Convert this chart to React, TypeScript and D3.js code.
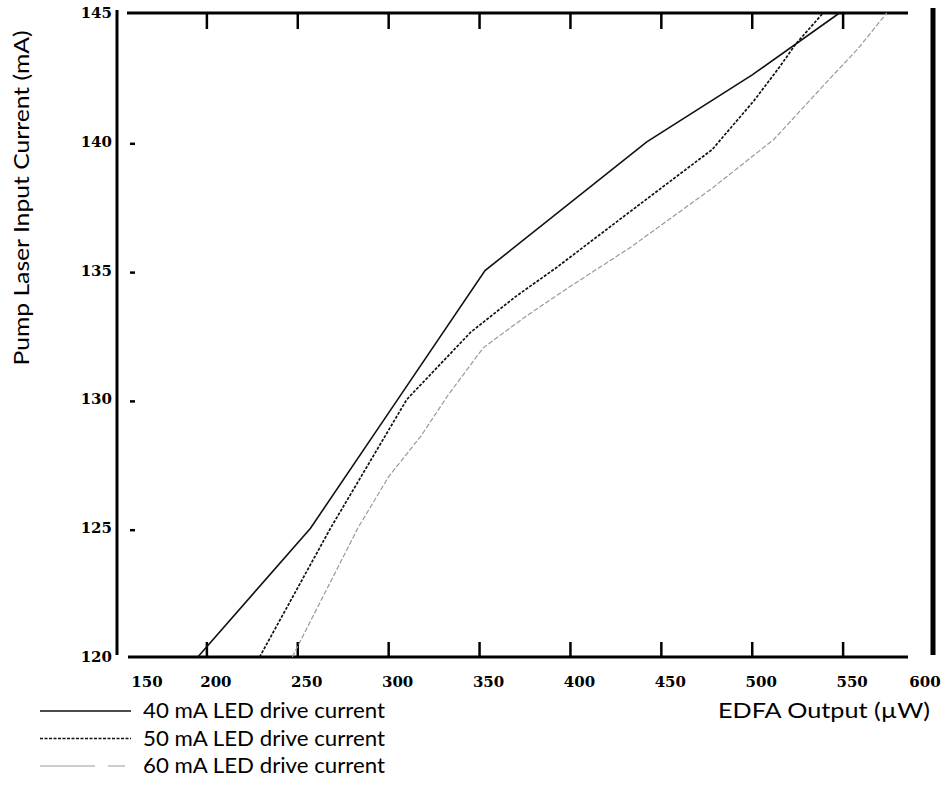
import * as d3 from 'd3';
import React from 'react';

// EDFA output (µW) vs pump laser current (mA), one list per LED drive current
const current40 = [
  { x: 195, y: 120 }, { x: 257, y: 125 }, { x: 305, y: 130 }, { x: 353, y: 135 },
  { x: 442, y: 140 }, { x: 500, y: 142.6 }, { x: 548, y: 145 },
];
const current50 = [
  { x: 229, y: 120 }, { x: 268, y: 125 }, { x: 310, y: 130 }, { x: 345, y: 132.6 },
  { x: 370, y: 134 }, { x: 392, y: 135.1 }, { x: 433, y: 137.3 }, { x: 478, y: 139.7 },
  { x: 501, y: 141.6 }, { x: 515, y: 142.9 }, { x: 524, y: 143.8 }, { x: 539, y: 145 },
];
const current60 = [
  { x: 247, y: 120 }, { x: 265, y: 122.5 }, { x: 283, y: 125 }, { x: 300, y: 127 },
  { x: 318, y: 128.6 }, { x: 333, y: 130.2 }, { x: 352, y: 132 }, { x: 375, y: 133.2 },
  { x: 398, y: 134.3 }, { x: 433, y: 135.9 }, { x: 478, y: 138.2 }, { x: 512, y: 140.1 },
  { x: 542, y: 142.4 }, { x: 558, y: 143.6 }, { x: 574, y: 145 },
];

const xTickValues = [200, 250, 300, 350, 400, 450, 500, 550];
const xLabels = [150, 200, 250, 300, 350, 400, 450, 500, 550, 600];
const yLabels = [145, 140, 135, 130, 125, 120];
const yInnerTicks = [140, 135, 130, 125];

const seriesNames = ['40 mA LED drive current', '50 mA LED drive current', '60 mA LED drive current'];

const styles = [
  { stroke: '#111', width: 1.6, dash: null },
  { stroke: '#111', width: 1.7, dash: '3,1.5' },
  { stroke: '#9a9a9a', width: 1.2, dash: '5,2' },
];
const legendDash = [null, '3,1.5', '55,13,17,100'];

const sans = 'Lato, "Open Sans", sans-serif';
const serif = '"DejaVu Serif", serif';

export default function App() {
  const x = d3.scaleLinear().domain([150, 600]).range([116, 934]);
  const y = d3.scaleLinear().domain([120, 145]).range([657, 13]);

  const line = d3.line<{ x: number; y: number }>()
    .x(d => x(d.x))
    .y(d => y(d.y));

  const series = [current40, current50, current60];

  // labels sit a little right of their ticks, the end ones are pushed inside the frame
  const labelX = (v: number) => {
    if (v === 150) return x(v) + 31;
    if (v === 600) return x(v) - 9;
    return x(v) + 9;
  };

  return (
    <svg width={945} height={811} style={{ position: 'absolute', left: 0, top: 0, background: '#fff' }}>
      {/* frame */}
      <line x1={117} x2={117} y1={10} y2={655} stroke="#000" strokeWidth={3} />
      <line x1={933} x2={933} y1={8} y2={655} stroke="#000" strokeWidth={5} />
      <line x1={127} x2={908} y1={y(145)} y2={y(145)} stroke="#000" strokeWidth={3} />
      <line x1={128} x2={908} y1={y(120)} y2={y(120)} stroke="#000" strokeWidth={3} />

      {xTickValues.map(v => (
        <g key={v}>
          <line x1={x(v)} x2={x(v)} y1={y(145)} y2={y(145) + 16} stroke="#000" strokeWidth={2.5} />
          <line x1={x(v)} x2={x(v)} y1={y(120)} y2={y(120) - 15} stroke="#000" strokeWidth={2.5} />
        </g>
      ))}

      {yInnerTicks.map(v => (
        <line key={v} x1={130} x2={135} y1={y(v) + 2} y2={y(v) + 2} stroke="#000" strokeWidth={2.5} />
      ))}

      {/* tick labels */}
      {yLabels.map(v => (
        <text key={v} x={112} y={y(v) + 5} textAnchor="end" fontFamily={serif}
          fontWeight="bold" fontSize={15}>{v}</text>
      ))}
      {xLabels.map(v => (
        <text key={v} x={labelX(v)} y={687} textAnchor="middle" fontFamily={serif}
          fontWeight="bold" fontSize={15}>{v}</text>
      ))}

      {/* data */}
      {series.map((s, i) => (
        <path key={i} d={line(s) || ''} fill="none" stroke={styles[i].stroke}
          strokeWidth={styles[i].width} strokeDasharray={styles[i].dash || undefined} />
      ))}

      {/* axis titles */}
      <text transform="translate(29,198) rotate(-90)" textAnchor="middle" fontFamily={sans}
        fontSize={22} textLength={335} lengthAdjust="spacingAndGlyphs">Pump Laser Input Current (mA)</text>
      <text x={930} y={718} textAnchor="end" fontFamily={sans} fontSize={22}
        textLength={212} lengthAdjust="spacingAndGlyphs">EDFA Output (µW)</text>

      {/* legend */}
      {seriesNames.map((name, i) => (
        <g key={name} transform={`translate(0,${711 + i * 27.5})`}>
          <line x1={40} x2={131} y1={0} y2={0} stroke={styles[i].stroke}
            strokeWidth={styles[i].width} strokeDasharray={legendDash[i] || undefined} />
          <text x={143} y={7} fontFamily={sans} fontSize={21} textLength={242}
            lengthAdjust="spacingAndGlyphs">{name}</text>
        </g>
      ))}
    </svg>
  );
}
